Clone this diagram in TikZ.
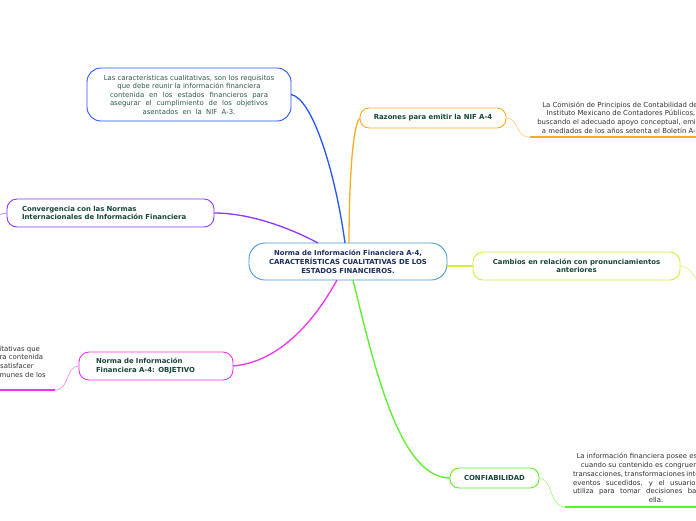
\documentclass[tikz,border=0pt]{standalone}
\usepackage{fontspec}
\setmainfont{DejaVu Sans}
\definecolor{colorcentro}{HTML}{4C9AD6}
\definecolor{colorazul}{HTML}{2457FF}
\definecolor{colornaranja}{HTML}{FFAA22}
\definecolor{colormorado}{HTML}{8A3BFF}
\definecolor{colormagenta}{HTML}{EE33EE}
\definecolor{coloramarillo}{HTML}{D2F03A}
\definecolor{colorverde}{HTML}{5CF02A}
\definecolor{textoverde}{HTML}{15463A}
\definecolor{textoazul}{HTML}{1C2D5A}
\definecolor{textocaja}{HTML}{2D5A4A}
\definecolor{textogris}{HTML}{333333}

\begin{document}
\begin{tikzpicture}[x=1pt,y=-1pt,every node/.style={outer sep=0pt},
  centro/.style={draw=colorcentro,fill=white,line width=0.9pt,rounded corners=16pt,minimum width=198pt,minimum height=37pt,align=center,text=textoazul,font=\fontsize{6.9}{9}\selectfont\bfseries},
  caja/.style={draw=colorazul,fill=white,line width=0.9pt,rounded corners=14pt,minimum width=204pt,minimum height=53pt,align=center,text=textocaja,font=\fontsize{6.9}{8.5}\selectfont},
  rama/.style={draw=#1,fill=white,line width=0.9pt,rounded corners=10pt,minimum height=28pt,text=textoverde,font=\fontsize{6.9}{8.5}\selectfont\bfseries},
  hoja/.style={inner sep=0pt,align=center,text=textogris,font=\fontsize{6.9}{8.8}\selectfont},
  conector/.style={draw=#1,line width=1.3pt},
  enlace/.style={draw=#1,line width=0.6pt},
  subrayado/.style={draw=#1,line width=1.6pt}]

\useasboundingbox (0,0) rectangle (696,520);
\clip (0,0) rectangle (696,520);
\fill[white] (0,0) rectangle (696,520);

\node[centro] (nif) at (348,261.5) {Norma de Información Financiera A-4,\\CARACTERÍSTICAS CUALITATIVAS DE LOS\\ESTADOS FINANCIEROS.};

\node[caja] (caracteristicas) at (189,94.5) {Las características cualitativas, son los requisitos\\que debe reunir la información financiera\\\makebox[158pt][s]{contenida en los estados financieros para}\\\makebox[158pt][s]{asegurar el cumplimiento de los objetivos}\\asentados\ \ en\ \ la\ \ NIF\ \ A-3.};

\node[rama=colornaranja,minimum height=20pt,minimum width=146pt,rounded corners=9pt] (razones) at (433,118) {Razones para emitir la NIF A-4};
\node[rama=colormorado,minimum width=207pt,text width=177pt,inner xsep=15pt,align=left] (convergencia) at (110.5,213) {Convergencia con las Normas\\Internacionales de Información Financiera};
\node[rama=colormagenta,minimum width=154pt,text width=120pt,inner xsep=17pt,align=left] (objetivo) at (156,366) {Norma de Información\\Financiera A-4: OBJETIVO};
\node[rama=coloramarillo,minimum width=207pt,align=center] (cambios) at (576.5,266) {Cambios en relación con pronunciamientos\\anteriores};
\node[rama=colorverde,minimum height=20pt,minimum width=89pt,rounded corners=9pt] (confiabilidad) at (494.5,478) {CONFIABILIDAD};

\node[hoja] (razoneshoja) at (621,117.5) {La Comisión de Principios de Contabilidad del\\Instituto Mexicano de Contadores Públicos,\\buscando el adecuado apoyo conceptual, emitió\\a mediados de los años setenta el Boletín A-1};
\node[hoja] (objetivohoja) at (-39,366) {Establecer las características cualitativas que\\debe reunir la información financiera contenida\\en los estados financieros, para satisfacer\\adecuadamente las necesidades comunes de los\\usuarios.};
\node[hoja] (confiabilidadhoja) at (656,478) {La información financiera posee esta cualidad\\cuando su contenido es congruente con las\\\makebox[166pt][s]{transacciones, transformaciones internas y otros}\\\makebox[166pt][s]{eventos sucedidos, y el usuario general la}\\\makebox[166pt][s]{utiliza para tomar decisiones basándose en}\\ella.};

\coordinate (razonesfin) at (530,137);
\coordinate (objetivofin) at (55,390);
\coordinate (confiabilidadfin) at (565,507);
\coordinate (cambiosfin) at (708,296);
\coordinate (convergenciafin) at (-16,220);

\draw[conector=colorazul] (caracteristicas.east) .. controls (312,98) and (335,170) .. ([xshift=-3pt]nif.north);
\draw[conector=colornaranja] (razones.west) .. controls (352,125) and (349,190) .. ([xshift=1pt]nif.north);
\draw[conector=colormorado] (convergencia.east) .. controls (250,213) and (290,228) .. ([xshift=-30pt]nif.north);
\draw[conector=colormagenta] (objetivo.east) .. controls (280,362) and (315,320) .. ([xshift=-11pt]nif.south);
\draw[conector=colorverde] ([xshift=5pt]nif.south) .. controls (375,370) and (400,478) .. (confiabilidad.west);
\draw[conector=coloramarillo] (nif.east |- cambios.west) -- (cambios.west);

\draw[enlace=colornaranja!60] (razones.east) .. controls (520,118) and (514,137) .. (razonesfin);
\draw[subrayado=colornaranja] (razonesfin) -- ++(180,0);
\draw[enlace=colormagenta!60] (objetivo.west) .. controls (65,366) and (70,390) .. (objetivofin);
\draw[subrayado=colormagenta] (objetivofin) -- ++(-180,0);
\draw[enlace=colorverde!60] (confiabilidad.east) .. controls (553,478) and (549,507) .. (confiabilidadfin);
\draw[subrayado=colorverde] (confiabilidadfin) -- ++(160,0);
\draw[enlace=coloramarillo!70] (cambios.east) .. controls (692,267) and (696,280) .. (cambiosfin);
\draw[enlace=colormorado!70] (convergencia.west) .. controls (0,213) and (-5,218) .. (convergenciafin);

\end{tikzpicture}
\end{document}
